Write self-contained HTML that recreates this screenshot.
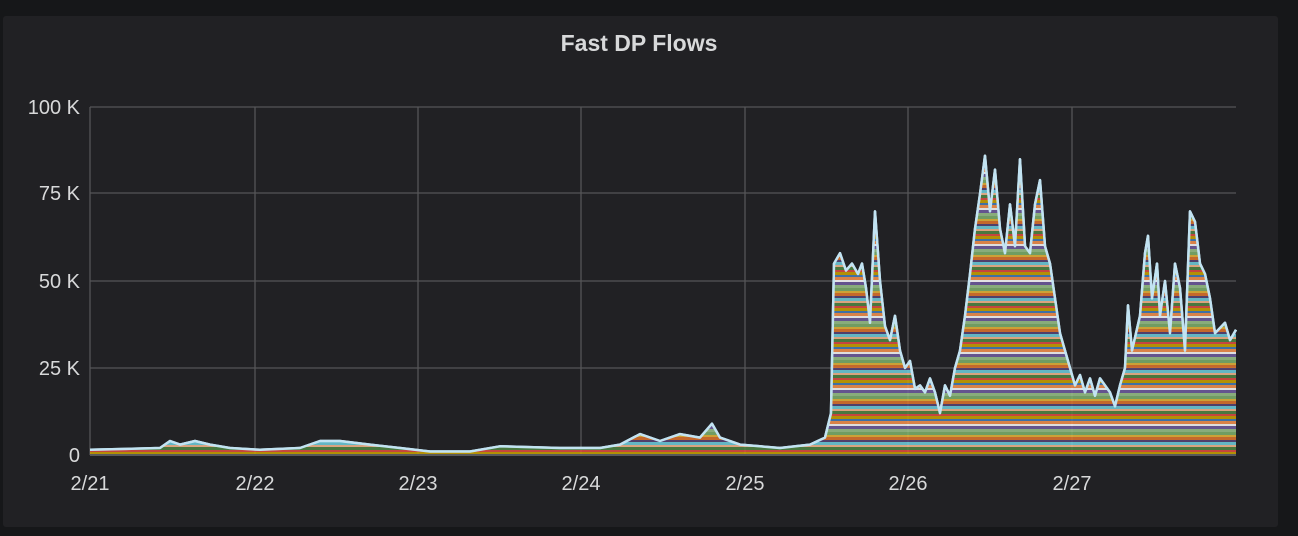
<!DOCTYPE html><html><head><style>
html,body{margin:0;padding:0;background:#161719;width:1298px;height:536px;overflow:hidden;font-family:"Liberation Sans",sans-serif}
.panel{position:absolute;left:3px;top:16px;width:1275px;height:511px;background:#212124;border-radius:3px}
.title{position:absolute;left:0;width:1278px;top:30px;text-align:center;color:#d8d9da;font-size:23px;font-weight:bold}
</style></head><body>
<div class="panel"></div>
<div class="title">Fast DP Flows</div>
<svg width="1298" height="536" style="position:absolute;left:0;top:0" font-family="Liberation Sans, sans-serif">
<defs>
<pattern id="st" patternUnits="userSpaceOnUse" x="0" y="0" width="1298" height="36">
<rect y="0" width="1298" height="3" fill="#7eb26d"/>
<rect y="3" width="1298" height="2" fill="#eab839"/>
<rect y="5" width="1298" height="3" fill="#e0752d"/>
<rect y="8" width="1298" height="2" fill="#584477"/>
<rect y="10" width="1298" height="3" fill="#6ed0e0"/>
<rect y="13" width="1298" height="2" fill="#f9ba8f"/>
<rect y="15" width="1298" height="3" fill="#508642"/>
<rect y="18" width="1298" height="2" fill="#e24d42"/>
<rect y="20" width="1298" height="3" fill="#cca300"/>
<rect y="23" width="1298" height="2" fill="#447ebc"/>
<rect y="25" width="1298" height="3" fill="#f9934e"/>
<rect y="28" width="1298" height="2" fill="#ffffff"/>
<rect y="30" width="1298" height="3" fill="#705da0"/>
<rect y="33" width="1298" height="3" fill="#9ac48a"/>
</pattern>
</defs>
<g stroke="#555557" stroke-width="1.3">
<line x1="90" x2="1236" y1="107" y2="107"/><line x1="90" x2="1236" y1="193" y2="193"/><line x1="90" x2="1236" y1="281" y2="281"/><line x1="90" x2="1236" y1="368" y2="368"/>
<line x1="90" x2="90" y1="107" y2="455"/><line x1="255" x2="255" y1="107" y2="455"/><line x1="418" x2="418" y1="107" y2="455"/><line x1="581" x2="581" y1="107" y2="455"/><line x1="745" x2="745" y1="107" y2="455"/><line x1="908" x2="908" y1="107" y2="455"/><line x1="1072" x2="1072" y1="107" y2="455"/>
</g>
<g fill="#d8d9da" font-size="20" text-anchor="end">
<text x="80" y="114">100 K</text><text x="80" y="200">75 K</text><text x="80" y="288">50 K</text><text x="80" y="375">25 K</text><text x="80" y="462">0</text>
</g>
<g fill="#d8d9da" font-size="20" text-anchor="middle">
<text x="90" y="490">2/21</text><text x="255" y="490">2/22</text><text x="418" y="490">2/23</text><text x="581" y="490">2/24</text><text x="745" y="490">2/25</text><text x="908" y="490">2/26</text><text x="1072" y="490">2/27</text>
</g>
<path id="env" d="M90,449.8 L160,448 L170,441 L180,444.6 L195,441 L210,444.6 L230,448 L260,449.8 L300,448 L320,441 L340,441 L370,444.6 L400,448 L430,451.5 L470,451.5 L500,446.3 L560,448 L600,448 L620,444.6 L640,434.1 L660,441 L680,434.1 L700,437.6 L712,423.7 L720,437.6 L740,444.6 L780,448 L810,444.6 L825,437.6 L831,413.2 L834,263.6 L840,253.2 L846,270.6 L852,263.6 L858,274 L862,263.6 L866,288 L870,322.8 L875,211.4 L880,281 L885,326.2 L890,340.2 L895,315.8 L900,350.6 L905,368 L910,361 L915,388.9 L920,385.4 L925,392.4 L930,378.4 L935,392.4 L940,413.2 L945,385.4 L950,395.8 L955,368 L960,350.6 L965,315.8 L970,274 L975,228.8 L980,194 L985,155.7 L990,211.4 L995,169.6 L1000,228.8 L1005,253.2 L1010,204.4 L1015,246.2 L1020,159.2 L1025,246.2 L1030,253.2 L1035,204.4 L1040,180.1 L1045,246.2 L1050,263.6 L1055,298.4 L1060,333.2 L1065,350.6 L1070,368 L1075,385.4 L1080,375 L1085,392.4 L1090,378.4 L1095,395.8 L1100,378.4 L1110,392.4 L1115,406.3 L1120,385.4 L1125,368 L1128,305.4 L1132,350.6 L1140,315.8 L1145,253.2 L1148,235.8 L1152,298.4 L1157,263.6 L1160,315.8 L1165,281 L1170,333.2 L1175,263.6 L1180,288 L1185,350.6 L1190,211.4 L1195,221.8 L1200,263.6 L1205,274 L1210,298.4 L1215,333.2 L1225,322.8 L1230,340.2 L1236,329.7" fill="none" stroke="#c2e3f2" stroke-width="2.5" stroke-linejoin="round"/>
<path d="M90,449.8 L160,448 L170,441 L180,444.6 L195,441 L210,444.6 L230,448 L260,449.8 L300,448 L320,441 L340,441 L370,444.6 L400,448 L430,451.5 L470,451.5 L500,446.3 L560,448 L600,448 L620,444.6 L640,434.1 L660,441 L680,434.1 L700,437.6 L712,423.7 L720,437.6 L740,444.6 L780,448 L810,444.6 L825,437.6 L831,413.2 L834,263.6 L840,253.2 L846,270.6 L852,263.6 L858,274 L862,263.6 L866,288 L870,322.8 L875,211.4 L880,281 L885,326.2 L890,340.2 L895,315.8 L900,350.6 L905,368 L910,361 L915,388.9 L920,385.4 L925,392.4 L930,378.4 L935,392.4 L940,413.2 L945,385.4 L950,395.8 L955,368 L960,350.6 L965,315.8 L970,274 L975,228.8 L980,194 L985,155.7 L990,211.4 L995,169.6 L1000,228.8 L1005,253.2 L1010,204.4 L1015,246.2 L1020,159.2 L1025,246.2 L1030,253.2 L1035,204.4 L1040,180.1 L1045,246.2 L1050,263.6 L1055,298.4 L1060,333.2 L1065,350.6 L1070,368 L1075,385.4 L1080,375 L1085,392.4 L1090,378.4 L1095,395.8 L1100,378.4 L1110,392.4 L1115,406.3 L1120,385.4 L1125,368 L1128,305.4 L1132,350.6 L1140,315.8 L1145,253.2 L1148,235.8 L1152,298.4 L1157,263.6 L1160,315.8 L1165,281 L1170,333.2 L1175,263.6 L1180,288 L1185,350.6 L1190,211.4 L1195,221.8 L1200,263.6 L1205,274 L1210,298.4 L1215,333.2 L1225,322.8 L1230,340.2 L1236,329.7 L1236,455 L90,455 Z" fill="url(#st)" fill-opacity="0.85"/>
<use href="#env"/>
<line x1="90" x2="1236" y1="455" y2="455" stroke="#58595b" stroke-width="2"/>
</svg>
</body></html>
